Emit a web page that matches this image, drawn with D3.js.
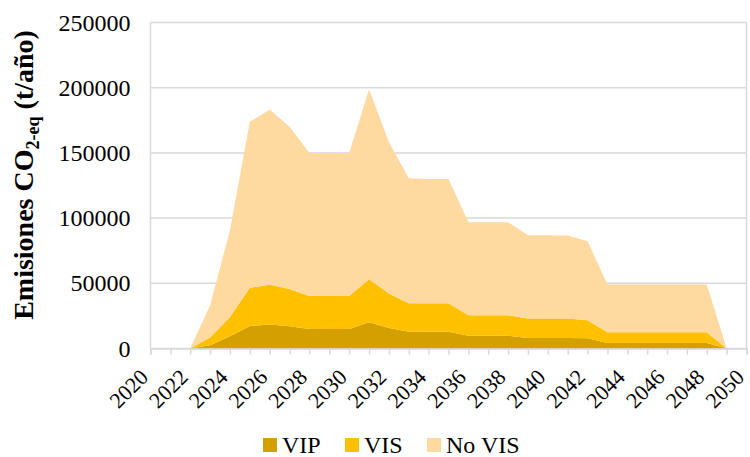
<!DOCTYPE html>
<html><head><meta charset="utf-8">
<script src="https://cdn.jsdelivr.net/npm/d3@7"></script>
<style>body{margin:0;background:#fff}svg{display:block}</style>
</head><body>
<svg id="c" width="750" height="457"></svg>
<script>
const years = d3.range(2022, 2050);
const VIP   = [0,2500,9400,17300,18400,17100,15000,15000,15000,20200,15800,12800,12800,12800,9700,9700,9700,8100,8100,8100,7800,4200,4200,4200,4200,4200,4200,0];
const VIS   = [0,5900,14800,29200,30700,28600,25300,25300,25300,32900,26400,21900,21900,21900,15800,15800,15800,14900,14900,14900,13900,8200,8200,8200,8200,8200,8200,0];
const NoVIS = [0,24800,66500,127300,134200,124300,109700,109700,109700,145500,116200,95800,95300,95300,71400,71400,71400,63900,63900,63700,60600,36600,36600,36600,36600,36600,36600,0];
const seriesNames = ["VIP","VIS","No VIS"];
const colors = ["#D4A000","#FFC000","#FED9A0"];
const yTicks = [0,50000,100000,150000,200000,250000];
const xTickLabels = d3.range(2020, 2051, 2);

const rows = years.map((y,i)=>({year:y, "VIP":VIP[i], "VIS":VIS[i], "No VIS":NoVIS[i]}));
const svg = d3.select("#c");
const L=150.5, R=746.5, T=22.5, B=348.5;
const x = d3.scaleLinear().domain([2020,2050]).range([L,R]);
const y = d3.scaleLinear().domain([0,250000]).range([B,T]);
const grid="#D9D9D9";

// gridlines
svg.append("g").selectAll("line").data(yTicks).join("line")
  .attr("x1",L).attr("x2",R).attr("y1",d=>y(d)).attr("y2",d=>y(d))
  .attr("stroke",grid).attr("stroke-width",1.5);

// stacked areas
const stack = d3.stack().keys(seriesNames)(rows);
const area = d3.area().x(d=>x(d.data.year)).y0(d=>y(d[0])).y1(d=>y(d[1]));
svg.append("g").selectAll("path").data(stack).join("path")
  .attr("d",area).attr("fill",(d,i)=>colors[i]);

// frame verticals
svg.append("line").attr("x1",L).attr("x2",L).attr("y1",T).attr("y2",B).attr("stroke",grid).attr("stroke-width",1.5);
svg.append("line").attr("x1",R).attr("x2",R).attr("y1",T).attr("y2",B).attr("stroke",grid).attr("stroke-width",1.5);

// x axis with yearly ticks
const xAxis = d3.axisBottom(x).tickValues(d3.range(2020,2051)).tickSize(6).tickFormat("");
const gx = svg.append("g").attr("transform",`translate(0,${B})`).call(xAxis);
gx.select(".domain").attr("stroke",grid).attr("stroke-width",1.5);
gx.selectAll(".tick line").attr("stroke",grid).attr("stroke-width",1.5);

// x labels
svg.append("g").selectAll("text").data(xTickLabels).join("text")
  .attr("transform",d=>`translate(${x(d)-1},${B+30}) rotate(-45)`)
  .attr("text-anchor","end")
  .attr("font-family","Liberation Serif").attr("font-size",22).attr("fill","#000")
  .text(d=>d);

// y axis labels
const yAxis = d3.axisLeft(y).tickValues(yTicks).tickSize(0).tickPadding(20).tickFormat(d3.format("d"));
const gy = svg.append("g").attr("transform",`translate(${L},0)`).call(yAxis);
gy.select(".domain").remove();
gy.selectAll("text").attr("font-family","Liberation Serif").attr("font-size",24).attr("fill","#000");

// y title
const t = svg.append("text").attr("transform","translate(33,175) rotate(-90)")
  .attr("text-anchor","middle").attr("font-family","Liberation Serif")
  .attr("font-weight","bold").attr("font-size",28).attr("fill","#000");
t.append("tspan").text("Emisiones CO");
t.append("tspan").attr("font-size",18).attr("dy",6).text("2-eq");
t.append("tspan").attr("dy",-6).text(" (t/año)");

// legend
const lx = [263,345,427];
const lg = svg.append("g").selectAll("g").data(seriesNames).join("g")
  .attr("transform",(d,i)=>`translate(${lx[i]},438)`);
lg.append("rect").attr("width",14).attr("height",14).attr("fill",(d,i)=>colors[i]);
lg.append("text").attr("x",19).attr("y",15).attr("font-family","Liberation Serif")
  .attr("font-size",24).attr("fill","#000").text(d=>d);
</script>
</body></html>
